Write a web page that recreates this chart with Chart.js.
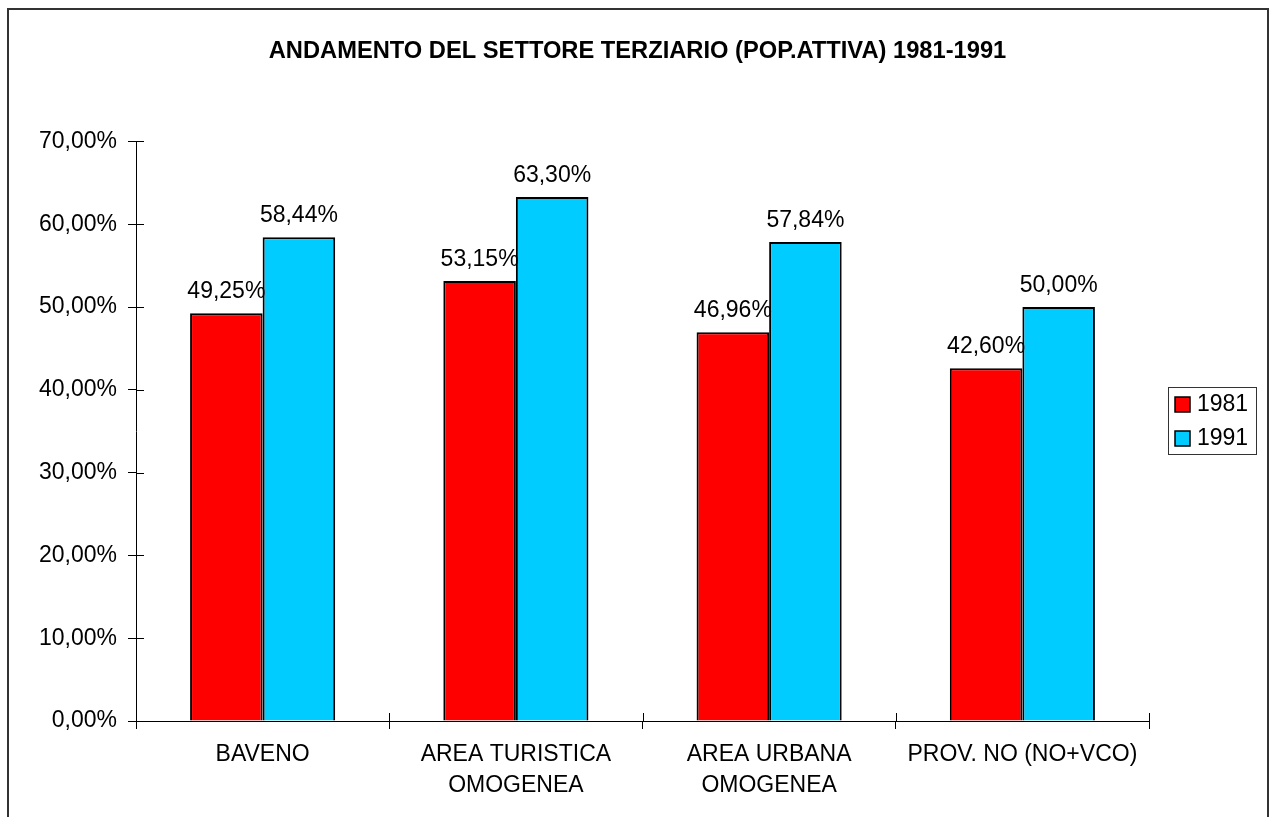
<!DOCTYPE html>
<html>
<head>
<meta charset="utf-8">
<style>
  html, body { margin: 0; padding: 0; background: #fff; overflow: hidden; }
  #frame { position: absolute; left: 7px; top: 8px; width: 1262px; height: 900px; border: 2px solid #333; box-sizing: border-box; }
  #wrap { position: absolute; left: 0; top: 0; width: 1275px; height: 817px; }
</style>
</head>
<body>
<div id="frame"></div>
<div id="wrap"><canvas id="chart"></canvas></div>
<script src="https://cdn.jsdelivr.net/npm/chart.js@4/dist/chart.umd.min.js"></script>
<script>
// values (percent)
var categories = [['BAVENO'], ['AREA TURISTICA', 'OMOGENEA'], ['AREA URBANA', 'OMOGENEA'], ['PROV. NO (NO+VCO)']];
var values1981 = [49.25, 53.15, 46.96, 42.60];
var values1991 = [58.44, 63.30, 57.84, 50.00];
var seriesNames = ['1981', '1991'];
var yMax = 70;
var yStep = 10;

var FONT = 'Arial, "Liberation Sans", sans-serif';

function pct(v) {
  return v.toFixed(2).replace('.', ',') + '%';
}

// ticks that cross the axis: Chart.js draws the outer half, this adds the inner half
var crossTicks = {
  id: 'crossTicks',
  afterDraw: function (chart) {
    var ctx = chart.ctx;
    var x = chart.scales.x, y = chart.scales.y;
    ctx.save();
    ctx.strokeStyle = '#000';
    ctx.lineWidth = 1;
    ctx.beginPath();
    y.ticks.forEach(function (t, i) {
      var py = Math.round(y.getPixelForTick(i)) + 0.5;
      ctx.moveTo(y.right, py);
      ctx.lineTo(y.right + 8, py);
    });
    for (var i = 0; i <= categories.length; i++) {
      var px = Math.round(x.getPixelForValue(i - 0.5)) + 0.5;
      ctx.moveTo(px, x.top);
      ctx.lineTo(px, x.top - 8);
    }
    ctx.stroke();
    ctx.restore();
  }
};

var valueLabels = {
  id: 'valueLabels',
  afterDatasetsDraw: function (chart) {
    var ctx = chart.ctx;
    ctx.save();
    ctx.font = '23px ' + FONT;
    ctx.fillStyle = '#000';
    ctx.textAlign = 'center';
    ctx.textBaseline = 'alphabetic';
    chart.data.datasets.forEach(function (ds, di) {
      chart.getDatasetMeta(di).data.forEach(function (bar, i) {
        ctx.fillText(pct(ds.data[i]), bar.x, bar.y - 15);
      });
    });
    ctx.restore();
  }
};

var boxLegend = {
  id: 'boxLegend',
  afterDraw: function (chart) {
    var ctx = chart.ctx;
    var lx = 1168, ly = 387, lw = 88, lh = 67;
    ctx.save();
    ctx.strokeStyle = '#333';
    ctx.lineWidth = 1;
    ctx.strokeRect(lx + 0.5, ly + 0.5, lw, lh);
    ctx.font = '23px ' + FONT;
    ctx.textBaseline = 'middle';
    chart.data.datasets.forEach(function (ds, i) {
      var sy = ly + 10 + i * 34;
      ctx.fillStyle = ds.backgroundColor;
      ctx.fillRect(lx + 7, sy, 15, 15);
      ctx.lineWidth = 1.5;
      ctx.strokeStyle = '#000';
      ctx.strokeRect(lx + 7, sy, 15, 15);
      ctx.fillStyle = '#000';
      ctx.fillText(ds.label, lx + 29, sy + 8);
    });
    ctx.restore();
  }
};

new Chart(document.getElementById('chart'), {
  type: 'bar',
  data: {
    labels: categories,
    datasets: [
      { label: seriesNames[0], data: values1981, backgroundColor: '#ff0000', borderColor: '#000', borderWidth: 2, borderSkipped: 'bottom' },
      { label: seriesNames[1], data: values1991, backgroundColor: '#00ccff', borderColor: '#000', borderWidth: 2, borderSkipped: 'bottom' }
    ]
  },
  options: {
    responsive: true,
    maintainAspectRatio: false,
    animation: false,
    categoryPercentage: 0.573,
    barPercentage: 1,
    layout: { padding: 0 },
    plugins: {
      legend: { display: false },
      tooltip: { enabled: false },
      title: {
        display: true,
        text: 'ANDAMENTO DEL SETTORE TERZIARIO (POP.ATTIVA) 1981-1991',
        color: '#000',
        font: { family: FONT, size: 23.7, weight: 'bold' },
        padding: { top: 37, bottom: 76 }
      }
    },
    scales: {
      x: {
        grid: { display: true, drawOnChartArea: false, drawTicks: true, tickLength: 8, color: '#000', offset: true },
        border: { display: true, color: '#000', width: 1 },
        ticks: { color: '#000', font: { family: FONT, size: 23, lineHeight: 1.36 }, padding: 10, maxRotation: 0, autoSkip: false },
        afterFit: function (s) { s.height = 96; }
      },
      y: {
        min: 0,
        max: yMax,
        grid: { display: true, drawOnChartArea: false, drawTicks: true, tickLength: 8, color: '#000' },
        border: { display: true, color: '#000', width: 1 },
        ticks: {
          stepSize: yStep,
          color: '#000',
          font: { family: FONT, size: 23 },
          padding: 11,
          callback: function (v) { return pct(v); }
        },
        afterFit: function (s) { s.width = 136; }
      },
      // empty right-hand axis that only keeps room for the legend box
      legendRoom: {
        position: 'right',
        display: true,
        grid: { display: false },
        border: { display: false },
        ticks: { display: false },
        afterFit: function (s) { s.width = 126; }
      }
    }
  },
  plugins: [crossTicks, valueLabels, boxLegend]
});
</script>
</body>
</html>
